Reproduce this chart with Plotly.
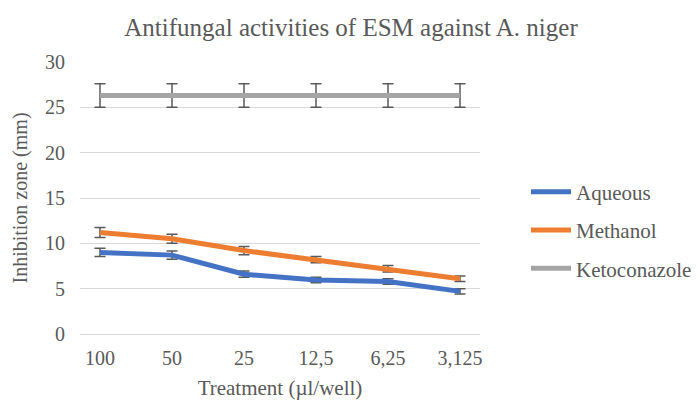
import plotly.graph_objects as go

categories = ["100", "50", "25", "12,5", "6,25", "3,125"]
aqueous = [9.0, 8.7, 6.6, 5.95, 5.8, 4.7]
aqueous_err = [0.45, 0.45, 0.35, 0.3, 0.3, 0.3]
methanol = [11.2, 10.5, 9.2, 8.2, 7.2, 6.1]
methanol_err = [0.55, 0.5, 0.45, 0.35, 0.35, 0.3]
keto = [26.3, 26.3, 26.3, 26.3, 26.3, 26.3]
keto_err = [1.3, 1.3, 1.3, 1.3, 1.3, 1.3]

series = [
    ("Aqueous", aqueous, aqueous_err, "#4472C4"),
    ("Methanol", methanol, methanol_err, "#ED7D31"),
    ("Ketoconazole", keto, keto_err, "#A5A5A5"),
]

FONT = "'Liberation Serif', 'Times New Roman', Tinos, 'DejaVu Serif', serif"
GREY = "#595959"
fig = go.Figure()
for name, vals, err, col in series:
    fig.add_trace(go.Scatter(
        x=categories, y=vals, name=name, mode="lines",
        line=dict(color=col, width=5),
        legendgroup=name,
        error_y=dict(type="data", array=err, visible=True,
                     color=GREY, thickness=1.5, width=5.5),
    ))

fig.update_layout(
    width=692, height=392,
    margin=dict(l=72, r=220, t=54, b=66, autoexpand=False),
    paper_bgcolor="white", plot_bgcolor="white",
    font=dict(family=FONT, color=GREY, size=20),
    title=dict(text="Antifungal activities of ESM against A. niger",
               x=0.4957, xref="container", xanchor="center",
               y=0.952, yanchor="middle",
               font=dict(size=25, color=GREY, family=FONT)),
    showlegend=True,
    legend=dict(x=1.115, y=0.382, xanchor="left", yanchor="middle",
                itemwidth=40, tracegroupgap=8,
                font=dict(size=21, color=GREY, family=FONT),
                bgcolor="rgba(0,0,0,0)"),
    xaxis=dict(title=dict(text="Treatment (µl/well)", standoff=12,
                          font=dict(size=21, family=FONT, color=GREY)),
               automargin=False, showgrid=False, showline=False, ticks="",
               ticklabelstandoff=10,
               tickfont=dict(size=20, family=FONT, color=GREY)),
    yaxis=dict(title=dict(text="Inhibition zone (mm)", standoff=12,
                          font=dict(size=20, family=FONT, color=GREY)),
               automargin=False,
               range=[0, 30], dtick=5, showgrid=True, gridcolor="#D9D9D9",
               gridwidth=1, zeroline=True, zerolinecolor="#D9D9D9", zerolinewidth=1,
               showline=False, ticks="", ticklabelstandoff=14,
               tickfont=dict(size=20, family=FONT, color=GREY)),
)

fig.write_html("out.html")
